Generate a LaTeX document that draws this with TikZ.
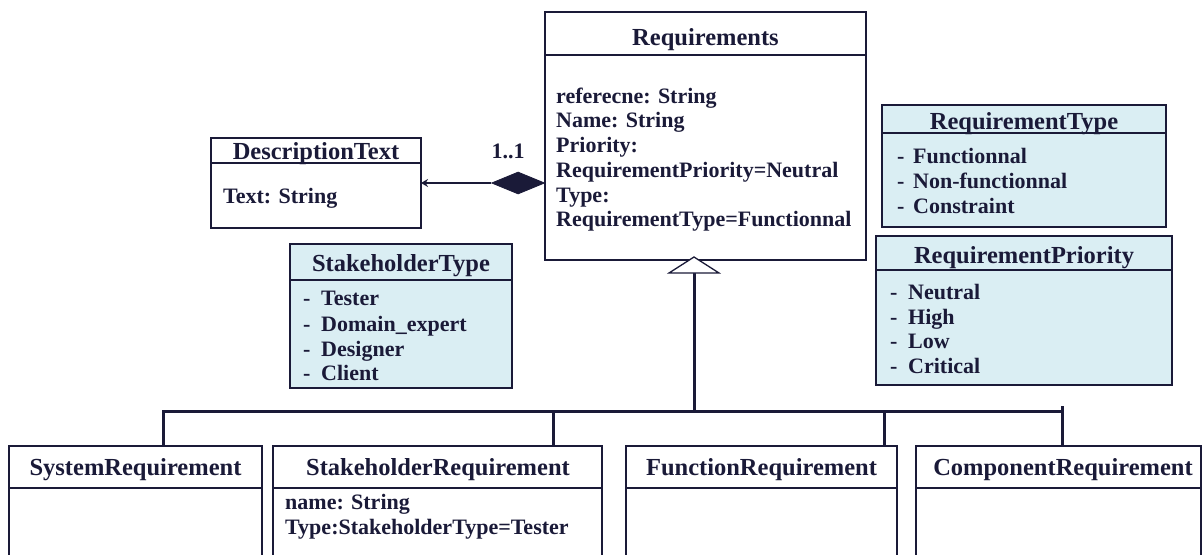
\documentclass[tikz,border=0pt]{standalone}
\usepackage{fontspec}
\setmainfont{Liberation Serif}
\usetikzlibrary{shapes.geometric,arrows.meta,shadows}
\definecolor{ink}{HTML}{1A1A38}
\definecolor{enumfill}{HTML}{DAEEF3}
\tikzset{
  umlbox/.style={draw=ink, line width=1.3pt, fill=white, inner sep=0pt, outer sep=0pt, anchor=north west,
    drop shadow={shadow xshift=1.3pt, shadow yshift=-1.3pt, opacity=0.3}},
  enumbox/.style={umlbox, fill=enumfill},
  sepline/.style={draw=ink, line width=1.3pt},
  ttl/.style={font=\bfseries\fontsize{24.5}{28}\selectfont, text=ink, inner sep=0pt, anchor=base},
  attr/.style={font=\bfseries\fontsize{22}{25}\selectfont, text=ink, inner sep=0pt, anchor=base west},
  busline/.style={draw=ink, line width=3pt},
}
\begin{document}
\begin{tikzpicture}[x=1pt,y=-1pt]
\useasboundingbox (0,0) rectangle (1204,554);
\clip (0,0) rectangle (1204,554);

% Requirements
\node[umlbox, minimum width=321pt, minimum height=248pt] (req) at (545,12) {};
\draw[sepline] (545,55) -- (866,55);
\node[ttl] (reqT) at (705.5,45) {Requirements};
\node[attr] (r1) at (556,103.5) {referecne: String};
\node[attr] (r2) at (556,127.5) {Name: String};
\node[attr] (r3) at (556,152.5) {Priority:};
\node[attr] (r4) at (556,177.5) {RequirementPriority=Neutral};
\node[attr] (r5) at (556,202.5) {Type:};
\node[attr] (r6) at (556,226.5) {RequirementType=Functionnal};

% DescriptionText
\node[umlbox, minimum width=210pt, minimum height=90pt] (desc) at (211,138) {};
\draw[sepline] (211,163) -- (421,163);
\node[ttl] (descT) at (316,159) {DescriptionText};
\node[attr] (d1t) at (223,203.5) {Text: String};

% composition
\node[diamond, draw=ink, fill=ink, line width=0.8pt, aspect=2.4, minimum width=53pt, minimum height=22pt, inner sep=0pt, anchor=east] (dia) at (545,183) {};
\draw[ink, line width=2.6pt, -{Stealth[length=7pt,width=8pt]}] (dia.west) -- (desc.east);
\node[attr, anchor=base] (mult) at (508,158) {1..1};

% StakeholderType
\node[enumbox, minimum width=222pt, minimum height=144pt] (stk) at (290,244) {};
\draw[sepline] (290,280) -- (512,280);
\node[ttl] (stkT) at (401,271) {StakeholderType};
\node[attr] (s1d) at (303,305.5) {-};
\node[attr] (s1) at (321,305.5) {Tester};
\node[attr] (s2d) at (303,331.5) {-};
\node[attr] (s2) at (321,331.5) {Domain\_expert};
\node[attr] (s3d) at (303,356.5) {-};
\node[attr] (s3) at (321,356.5) {Designer};
\node[attr] (s4d) at (303,380.5) {-};
\node[attr] (s4) at (321,380.5) {Client};

% RequirementType
\node[enumbox, minimum width=284pt, minimum height=122pt] (rtype) at (882,105) {};
\draw[sepline] (882,133) -- (1166,133);
\node[ttl] (rtypeT) at (1024,129) {RequirementType};
\node[attr] (t1d) at (897,163.5) {-};
\node[attr] (t1) at (913,163.5) {Functionnal};
\node[attr] (t2d) at (897,188.5) {-};
\node[attr] (t2) at (913,188.5) {Non-functionnal};
\node[attr] (t3d) at (897,213.5) {-};
\node[attr] (t3) at (913,213.5) {Constraint};

% RequirementPriority
\node[enumbox, minimum width=296pt, minimum height=149pt] (rprio) at (876,236) {};
\draw[sepline] (876,270) -- (1172,270);
\node[ttl] (rprioT) at (1024,263) {RequirementPriority};
\node[attr] (p1d) at (890,299.5) {-};
\node[attr] (p1) at (908,299.5) {Neutral};
\node[attr] (p2d) at (890,324.5) {-};
\node[attr] (p2) at (908,324.5) {High};
\node[attr] (p3d) at (890,348.5) {-};
\node[attr] (p3) at (908,348.5) {Low};
\node[attr] (p4d) at (890,373.5) {-};
\node[attr] (p4) at (908,373.5) {Critical};

% bottom classes
\node[umlbox, minimum width=253pt, minimum height=130pt] (sys) at (9,446) {};
\draw[sepline] (9,488) -- (262,488);
\node[ttl] (sysT) at (135.5,475) {SystemRequirement};

\node[umlbox, minimum width=329pt, minimum height=130pt] (sreq) at (273,446) {};
\draw[sepline] (273,488) -- (602,488);
\node[ttl] (sreqT) at (438,475) {StakeholderRequirement};
\node[attr] (sa1) at (285,509.5) {name: String};
\node[attr] (sa2) at (285,534.5) {Type:StakeholderType=Tester};

\node[umlbox, minimum width=271pt, minimum height=130pt] (freq) at (626,446) {};
\draw[sepline] (626,488) -- (897,488);
\node[ttl] (freqT) at (761.5,475) {FunctionRequirement};

\node[umlbox, minimum width=285pt, minimum height=130pt] (creq) at (916,446) {};
\draw[sepline] (916,488) -- (1201,488);
\node[ttl] (creqT) at (1063,475) {ComponentRequirement};

% generalisation
\coordinate (apex) at (694,257);
\coordinate (tribase) at (694,273);
\coordinate (busmid) at (694,411);
\coordinate (b1) at (163,411);
\coordinate (b2) at (553,411);
\coordinate (b3) at (884,411);
\coordinate (b4) at (1062,411);
\coordinate (b4top) at (1062,406);
\draw[busline] (tribase) -- (busmid);
\draw[busline] (b1 |- sys.north) -- (b1) -- (b4);
\draw[busline] (b2) -- (b2 |- sreq.north);
\draw[busline] (b3) -- (b3 |- freq.north);
\draw[busline] (b4top) -- (b4 |- creq.north);
\draw[ink, line width=1.3pt, fill=white, line join=miter] (apex) -- (669,273) -- (719,273) -- cycle;
\end{tikzpicture}
\end{document}
